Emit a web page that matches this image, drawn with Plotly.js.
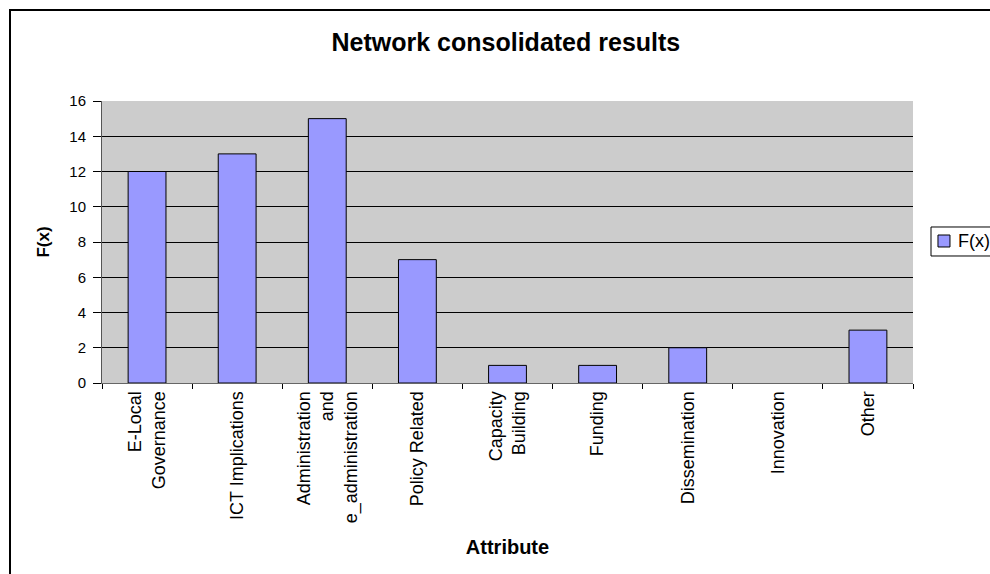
<!DOCTYPE html>
<html><head><meta charset="utf-8">
<script src="https://cdn.plot.ly/plotly-3.0.1.min.js"></script>
<style>
html,body{margin:0;padding:0;background:#fff;overflow:hidden;}
#chart{position:absolute;left:0;top:0;width:990px;height:574px;}
#frame{position:absolute;left:9px;top:9px;width:1200px;height:800px;border-left:2px solid #000;border-top:2px solid #000;pointer-events:none;}
</style></head>
<body>
<div id="chart"></div>
<div id="frame"></div>
<script>
const categories = ["E-Local<br>Governance","ICT Implications","Administration<br>and<br>e_administration","Policy Related","Capacity<br>Building","Funding","Dissemination","Innovation","Other"];
const values = [12, 13, 15, 7, 1, 1, 2, 0, 3];
const seriesName = "F(x)";
const yTicks = [0,2,4,6,8,10,12,14,16];

const font = "Liberation Sans, Arial, sans-serif";
const barColor = "#9999ff";
Plotly.newPlot("chart", [{
  type: "bar",
  x: categories,
  y: values,
  name: seriesName,
  width: 0.42,
  marker: {color: barColor, line: {color: "#000", width: values.map(v => v > 0 ? 1 : 0)}},
  showlegend: false
}], {
  width: 990, height: 574,
  margin: {l: 102, r: 77, t: 101, b: 191, autoexpand: false},
  paper_bgcolor: "rgba(0,0,0,0)",
  plot_bgcolor: "#cccccc",
  font: {family: font, size: 15, color: "#000"},
  title: {text: "<b>Network consolidated results</b>", font: {size: 25, family: font}, x: 0.511, xanchor: "center", y: 0.927, yanchor: "middle"},
  xaxis: {
    type: "category",
    tickangle: -90,
    tickson: "boundaries",
    ticks: "outside", ticklen: 5, tickcolor: "#000",
    showline: true, linecolor: "#666", linewidth: 1,
    showgrid: false,
    tickfont: {size: 18, family: font},
    title: {text: "<b>Attribute</b>", font: {size: 20, family: font}, standoff: 17},
    automargin: false
  },
  yaxis: {
    range: [0, 16],
    tickvals: yTicks,
    ticks: "outside", ticklen: 8, tickcolor: "#000",
    ticklabelstandoff: 4,
    showline: true, linecolor: "#555", linewidth: 1,
    showgrid: true, gridcolor: "#000", gridwidth: 1,
    zeroline: false,
    tickfont: {size: 15, family: font},
    title: {text: "<b>F(x)</b>", font: {size: 17, family: font}, standoff: 15},
    automargin: false
  },
  shapes: [
    {type: "rect", xref: "paper", yref: "paper", x0: 1.0222, x1: 1.12, y0: 0.4504, y1: 0.5532,
     line: {color: "#000", width: 1}, fillcolor: "#fff", layer: "above"},
    {type: "rect", xref: "paper", yref: "paper", x0: 1.0308, x1: 1.0456, y0: 0.4823, y1: 0.5248,
     line: {color: "#000", width: 1}, fillcolor: barColor, layer: "above"}
  ],
  annotations: [
    {text: seriesName, xref: "paper", yref: "paper", x: 1.0533, y: 0.5035, xanchor: "left", yanchor: "middle",
     showarrow: false, font: {size: 18, family: font, color: "#000"}}
  ]
}, {displayModeBar: false, staticPlot: true});
</script>
</body></html>
